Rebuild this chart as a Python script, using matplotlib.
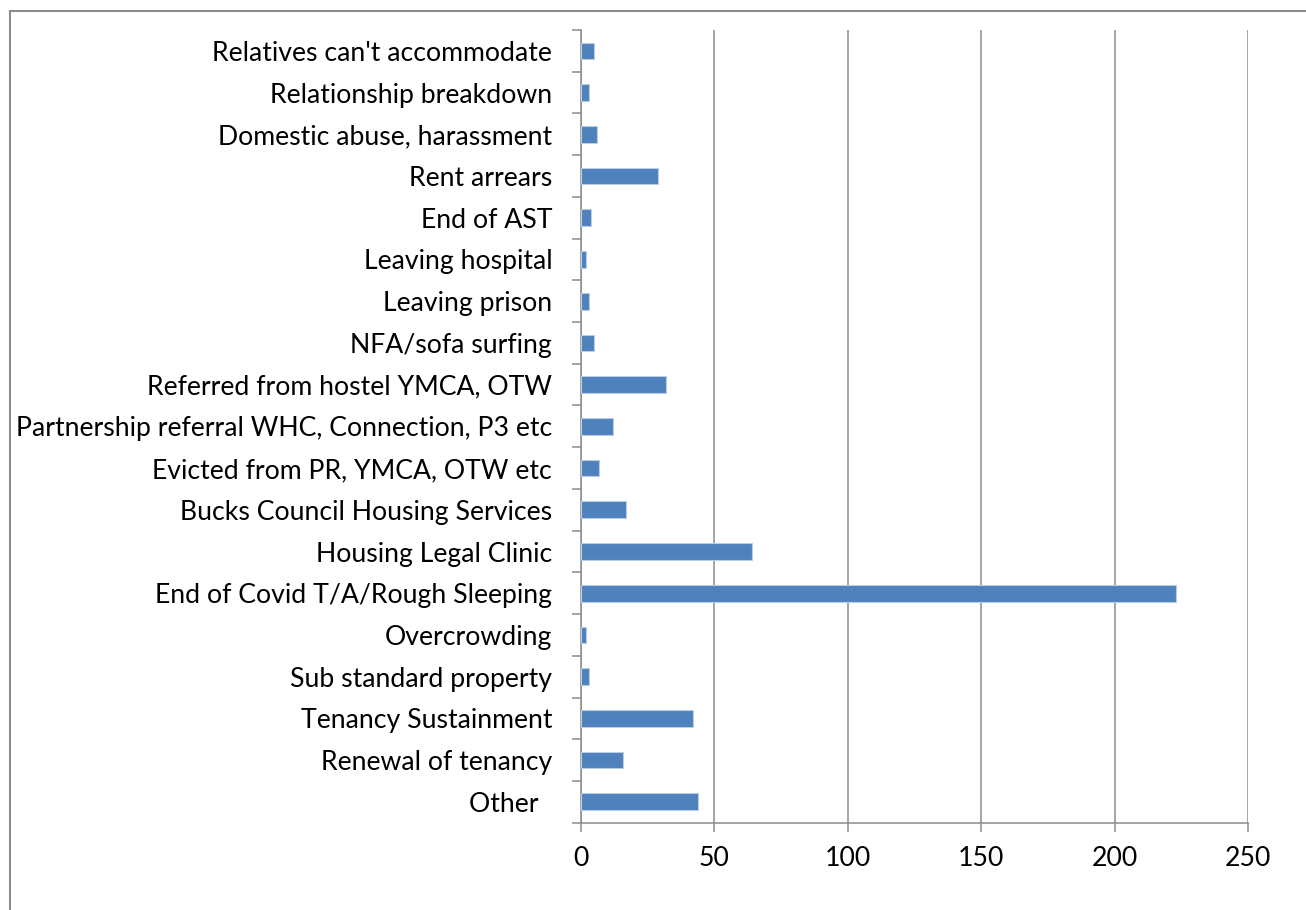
import matplotlib
matplotlib.use("Agg")

import numpy as np
import matplotlib.pyplot as plt
from matplotlib.patches import Rectangle
from matplotlib.ticker import FixedLocator, NullFormatter

# ── data (top of chart first) ────────────────────────────────
CATEGORIES = [
    "Relatives can't accommodate",
    "Relationship breakdown",
    "Domestic abuse, harassment",
    "Rent arrears",
    "End of AST",
    "Leaving hospital",
    "Leaving prison",
    "NFA/sofa surfing",
    "Referred from hostel YMCA, OTW",
    "Partnership referral WHC, Connection, P3 etc",
    "Evicted from PR, YMCA, OTW etc",
    "Bucks Council Housing Services",
    "Housing Legal Clinic",
    "End of Covid T/A/Rough Sleeping",
    "Overcrowding",
    "Sub standard property",
    "Tenancy Sustainment",
    "Renewal of tenancy",
    "Other  ",
]
COUNTS = [5, 3, 6, 29, 4, 2, 3, 5, 32, 12, 7, 17, 64, 223, 2, 3, 42, 16, 44]
X_TICKS = [0, 50, 100, 150, 200, 250]

W, H = 1306, 910
GRID = "#8c8c8c"
BAR = "#4f81bd"

plt.rcParams["font.family"] = ["Lato", "DejaVu Sans"]

fig = plt.figure(figsize=(W / 100, H / 100), dpi=100)
fig.patch.set_facecolor("white")

# outer chart frame (runs off the right / bottom edge like the source)
fig.add_artist(Rectangle((10 / W, -0.05), 1.1, 1 - 11 / H + 0.05,
                         transform=fig.transFigure, fill=False,
                         edgecolor=GRID, linewidth=1.5))

left, right, top, bottom = 580.7, 1248, 30, 822.7
ax = fig.add_axes([left / W, 1 - bottom / H, (right - left) / W, (bottom - top) / H])

n = len(CATEGORIES)
ypos = np.arange(n)[::-1]
ax.barh(ypos, COUNTS, height=0.4, color=BAR, edgecolor="#b9cde5",
        linewidth=0.8, zorder=3)

ax.set_xlim(0, 250)
ax.set_ylim(-0.5, n - 0.5)

ax.xaxis.set_major_locator(FixedLocator(X_TICKS))
ax.set_xticklabels([str(t) for t in X_TICKS])
ax.grid(axis="x", color=GRID, linewidth=1.1, zorder=0)
ax.set_axisbelow(True)

# category boundaries get the tick marks, centres get the labels
ax.yaxis.set_major_locator(FixedLocator(np.arange(-0.5, n, 1.0)))
ax.yaxis.set_major_formatter(NullFormatter())
ax.yaxis.set_minor_locator(FixedLocator(ypos))
ax.set_yticklabels(CATEGORIES, minor=True)

for s in ("top", "right"):
    ax.spines[s].set_visible(False)
for s in ("left", "bottom"):
    ax.spines[s].set_color(GRID)
    ax.spines[s].set_linewidth(1.1)

ax.tick_params(axis="y", which="major", direction="out", length=6.5,
               width=1.1, color=GRID)
ax.tick_params(axis="y", which="minor", length=0, pad=20.5, labelsize=19.2)
ax.tick_params(axis="x", direction="out", length=6.5, width=1.1,
               color=GRID, pad=10, labelsize=19.2)

fig.savefig("out.png", dpi=100, facecolor="white")
